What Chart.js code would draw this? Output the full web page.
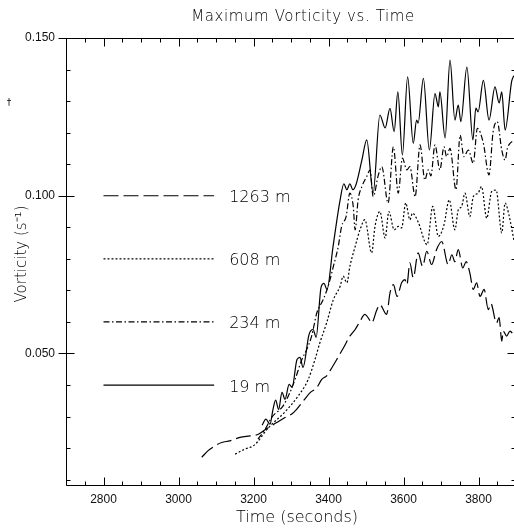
<!DOCTYPE html>
<html>
<head>
<meta charset="utf-8">
<script src="https://cdn.jsdelivr.net/npm/chart.js@4.4.1/dist/chart.umd.min.js"></script>
<style>
html, body { margin: 0; padding: 0; overflow: hidden; background: #fff; }
canvas { display: block; }
</style>
</head>
<body>
<canvas id="chart" width="520" height="532"></canvas>
<script>
// time (s) and max vorticity (1/s), one pair per height
const t1263 = [3062,3079,3097,3115,3137,3164,3191,3213,3239,3262,3284,3302,3315,3333,3351,3369,3382,3395,3409,3422,3440,3457,3471,3484,3497,3506,3515,3529,3537,3555,3564,3573,3583,3595,3604,3609,3617,3626,3639,3651,3662,3675,3688,3702,3719,3729,3737,3746,3758,3767,3777,3786,3795,3804,3815,3826,3833,3848,3855,3862,3866,3875,3884,3895];
const v1263 = [0.0171,0.0192,0.0207,0.0218,0.0223,0.0234,0.0239,0.0244,0.0265,0.0281,0.0297,0.0308,0.0323,0.0350,0.0376,0.0392,0.0418,0.0429,0.0455,0.0481,0.0518,0.0555,0.0576,0.0602,0.0624,0.0613,0.0597,0.0639,0.0655,0.0624,0.0692,0.0718,0.0681,0.0724,0.0734,0.0718,0.0787,0.0740,0.0819,0.0776,0.0824,0.0782,0.0829,0.0855,0.0782,0.0813,0.0791,0.0829,0.0771,0.0791,0.0755,0.0703,0.0724,0.0681,0.0703,0.0639,0.0658,0.0597,0.0614,0.0539,0.0571,0.0555,0.0571,0.0555];

const t608 = [3151,3177,3199,3213,3226,3244,3262,3284,3319,3346,3364,3377,3395,3413,3431,3439,3449,3457,3471,3484,3497,3515,3524,3537,3551,3561,3575,3586,3595,3606,3617,3624,3639,3663,3678,3693,3708,3722,3737,3746,3755,3764,3777,3786,3799,3808,3822,3835,3847,3862,3871,3881,3895];
const v608 = [0.0181,0.0197,0.0207,0.0223,0.0244,0.0270,0.0290,0.0315,0.0365,0.0418,0.0481,0.0534,0.0597,0.0671,0.0713,0.0745,0.0724,0.0776,0.0839,0.0892,0.0924,0.0819,0.0903,0.0950,0.0866,0.0950,0.0892,0.0903,0.0898,0.0977,0.0924,0.0945,0.0917,0.0845,0.0966,0.0871,0.0908,0.0987,0.0892,0.0955,0.0966,0.1008,0.0934,0.0997,0.1008,0.1029,0.0929,0.1013,0.1018,0.0882,0.0977,0.0940,0.0855];

const t234 = [3212,3231,3249,3279,3297,3311,3329,3342,3355,3369,3386,3399,3413,3426,3435,3447,3457,3466,3471,3479,3489,3502,3511,3519,3533,3542,3559,3573,3586,3597,3609,3617,3631,3644,3657,3666,3673,3684,3697,3708,3715,3724,3740,3751,3761,3773,3786,3797,3813,3828,3839,3850,3862,3871,3877,3884,3897];
const v234 = [0.0229,0.0260,0.0298,0.0334,0.0376,0.0418,0.0481,0.0513,0.0555,0.0629,0.0671,0.0713,0.0776,0.0839,0.0903,0.0934,0.1008,0.0966,0.0892,0.0987,0.1029,0.1061,0.1082,0.0997,0.1066,0.1092,0.0977,0.1155,0.1008,0.1119,0.1082,0.1092,0.0997,0.1161,0.1050,0.1082,0.1063,0.1161,0.1082,0.1155,0.1124,0.1150,0.1019,0.1192,0.1124,0.1145,0.1103,0.1214,0.1166,0.1066,0.1203,0.1235,0.1145,0.1113,0.1150,0.1166,0.1177];

const t19 = [3223,3233,3244,3252,3259,3267,3276,3284,3295,3303,3316,3324,3332,3348,3359,3367,3380,3388,3396,3412,3431,3441,3449,3457,3465,3473,3489,3502,3519,3537,3551,3564,3575,3585,3597,3611,3626,3635,3639,3653,3669,3684,3693,3697,3711,3724,3737,3746,3753,3769,3785,3793,3799,3813,3828,3844,3855,3862,3871,3889,3900];
const v19 = [0.0273,0.0292,0.0276,0.0323,0.0352,0.0323,0.0377,0.0355,0.0402,0.0393,0.0481,0.0488,0.0456,0.0560,0.0576,0.0551,0.0709,0.0722,0.0703,0.0838,0.0987,0.1038,0.1019,0.1038,0.1019,0.1034,0.1113,0.1177,0.1009,0.1256,0.1215,0.1277,0.1203,0.1329,0.1129,0.1377,0.1166,0.1240,0.1230,0.1372,0.1145,0.1324,0.1282,0.1329,0.1183,0.1430,0.1240,0.1287,0.1235,0.1408,0.1177,0.1278,0.1266,0.1366,0.1240,0.1345,0.1294,0.1329,0.1208,0.1366,0.1385];

// in-plot key
const legendLabels = ['1263 m', '608 m', '234 m', '19 m'];
const legendT = [2800, 3095];
const legendV = [0.100, 0.080, 0.060, 0.040];

const xTicks = [2800, 3000, 3200, 3400, 3600, 3800];
const yTicks = [0.050, 0.100, 0.150];

const dashes = [[15, 5], [2, 2], [6, 2.5, 1.5, 2.5], []];
const series = [[t1263, v1263], [t608, v608], [t234, v234], [t19, v19]];

const pts = (t, v) => t.map((x, i) => ({ x: x, y: v[i] }));

const datasets = [];
series.forEach(([t, v], i) => {
    datasets.push({
        data: pts(t, v),
        borderColor: '#000',
        borderWidth: 1.2,
        borderDash: dashes[i],
        pointRadius: 0,
        cubicInterpolationMode: 'monotone'
    });
    datasets.push({
        data: legendT.map(x => ({ x: x, y: legendV[i] })),
        borderColor: '#000',
        borderWidth: 1.2,
        borderDash: dashes[i],
        pointRadius: 0
    });
});

const thin = (size) => '200 ' + size + 'px "DejaVu Sans", sans-serif';

const framePlugin = {
    id: 'frame',
    afterDraw(chart) {
        const { ctx, chartArea: a, scales: { x, y } } = chart;
        ctx.save();
        ctx.strokeStyle = '#000';
        ctx.lineWidth = 1;
        ctx.setLineDash([]);
        ctx.beginPath();
        const L = a.left + 0.5, R = a.right - 0.5, T = a.top + 0.5, B = a.bottom - 0.5;
        ctx.rect(L, T, R - L, B - T);
        // minor every 50 s / 0.01, longer ticks on the labelled values
        for (let t = 2700; t <= 3900; t += 50) {
            const px = Math.round(x.getPixelForValue(t)) + 0.5;
            const len = t % 200 === 0 ? 8 : 4;
            ctx.moveTo(px, B); ctx.lineTo(px, B - len);
            ctx.moveTo(px, T); ctx.lineTo(px, T + len);
        }
        for (let i = 1; i <= 15; i++) {
            const py = Math.round(y.getPixelForValue(i / 100)) + 0.5;
            const major = i % 5 === 0;
            ctx.moveTo(major ? L - 8 : L, py); ctx.lineTo(L + (major ? 8 : 4), py);
            ctx.moveTo(R, py); ctx.lineTo(R - (major ? 8 : 4), py);
        }
        ctx.stroke();

        ctx.fillStyle = '#000';
        ctx.textAlign = 'center';
        ctx.textBaseline = 'alphabetic';
        ctx.font = thin(15);
        ctx.letterSpacing = '0.6px';
        ctx.fillText('Maximum Vorticity vs. Time', 303, 21);
        ctx.letterSpacing = '0px';
        ctx.font = thin(16);
        ctx.fillText('Time (seconds)', 297, 522);

        ctx.save();
        ctx.translate(26, 254);
        ctx.rotate(-Math.PI / 2);
        ctx.font = thin(15);
        ctx.fillText('Vorticity (s\u207B\u00B9)', 0, 0);
        ctx.restore();

        ctx.textAlign = 'left';
        ctx.font = thin(16);
        const lx = x.getPixelForValue(legendT[1]) + 15;
        legendLabels.forEach((lab, i) => {
            ctx.fillText(lab, lx, y.getPixelForValue(legendV[i]) + 6.5);
        });

        ctx.font = '9px "DejaVu Sans", sans-serif';
        ctx.textAlign = 'center';
        ctx.fillText('\u2020', 9, 105);
        ctx.restore();
    }
};

new Chart(document.getElementById('chart').getContext('2d'), {
    type: 'line',
    data: { datasets: datasets },
    options: {
        responsive: false,
        animation: false,
        devicePixelRatio: 1,
        layout: { padding: { top: 38, right: 4, left: 0, bottom: 0 } },
        plugins: {
            legend: { display: false },
            tooltip: { enabled: false },
            title: { display: false }
        },
        scales: {
            x: {
                type: 'linear',
                min: 2700,
                max: 3900,
                grid: { display: false, drawTicks: false },
                border: { display: false },
                afterBuildTicks: s => { s.ticks = xTicks.map(v => ({ value: v })); },
                afterFit: s => { s.height = 46; },
                ticks: {
                    font: { family: '"Liberation Sans", Arial, sans-serif', size: 12 },
                    color: '#111',
                    padding: 6,
                    maxRotation: 0,
                    autoSkip: false,
                    callback: v => String(v)
                }
            },
            y: {
                type: 'linear',
                min: 0.008,
                max: 0.150,
                grid: { display: false, drawTicks: false },
                border: { display: false },
                afterBuildTicks: s => { s.ticks = yTicks.map(v => ({ value: v })); },
                afterFit: s => { s.width = 66; },
                ticks: {
                    font: { family: '"Liberation Sans", Arial, sans-serif', size: 12 },
                    color: '#111',
                    padding: 11,
                    callback: v => v.toFixed(3)
                }
            }
        }
    },
    plugins: [framePlugin]
});
</script>
</body>
</html>
